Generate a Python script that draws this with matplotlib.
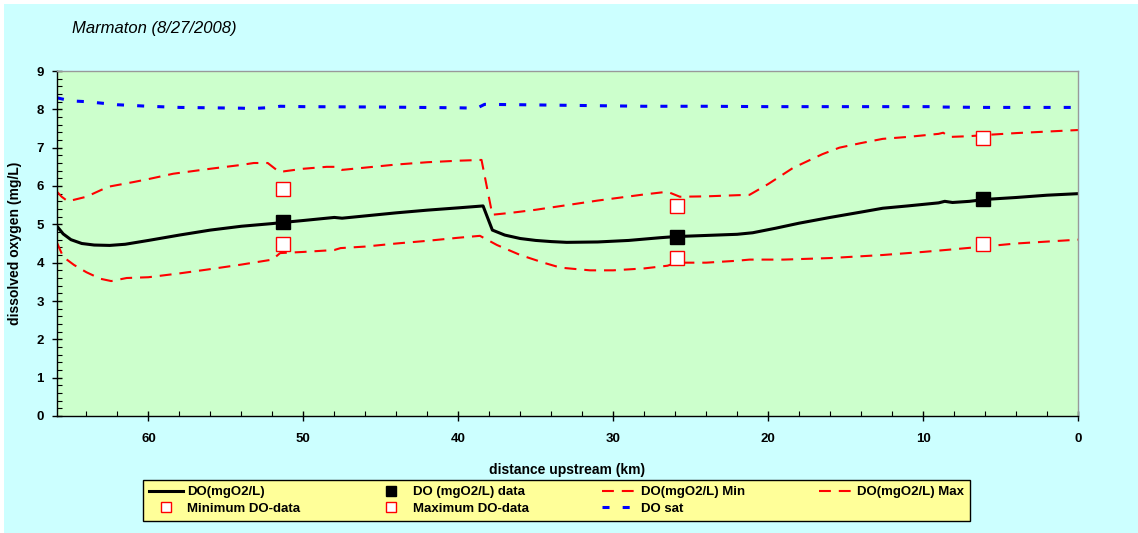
import matplotlib
matplotlib.use("Agg")
import matplotlib.pyplot as plt
from matplotlib.patches import Rectangle
from matplotlib.ticker import MultipleLocator

# model lines (distance upstream km, DO mg/L)
do_x = [65.9, 65.5, 65, 64.3, 63.5, 62.5, 61.5, 60, 58, 56, 54, 52, 51.3, 50, 48.5, 48, 47.5, 46, 44, 42, 40,
        38.4, 37.8, 37, 36, 35, 34, 33, 31, 29, 27, 26, 24, 22, 21, 19.5, 18, 16, 14, 12.6, 11, 9, 8.6, 8.1,
        7, 6, 4, 2, 0]
do_y = [4.95, 4.75, 4.6, 4.5, 4.46, 4.45, 4.48, 4.58, 4.72, 4.85, 4.95, 5.02, 5.05, 5.1, 5.16, 5.18, 5.16, 5.22,
        5.3, 5.37, 5.43, 5.48, 4.85, 4.72, 4.63, 4.58, 4.55, 4.53, 4.54, 4.58, 4.65, 4.68, 4.71, 4.74, 4.78, 4.9,
        5.03, 5.18, 5.32, 5.42, 5.48, 5.56, 5.6, 5.57, 5.6, 5.65, 5.7, 5.76, 5.8]

max_x = [65.9, 65.6, 65.2, 64, 62.6, 61, 60, 58.4, 56, 54, 53.2, 52.3, 51.6, 51.3, 50, 48.5, 47.8, 47.5, 46, 44,
         42, 40, 38.5, 37.8, 36.6, 35, 33, 31, 28, 26.5, 25.7, 24, 22, 21.2, 20, 18.4, 16.5, 15.4, 14, 12.6, 11,
         9, 8.7, 8.3, 7, 6, 4, 2, 0]
max_y = [5.85, 5.72, 5.6, 5.72, 5.98, 6.1, 6.18, 6.32, 6.45, 6.55, 6.6, 6.6, 6.38, 6.38, 6.45, 6.5, 6.5, 6.42,
         6.48, 6.56, 6.62, 6.66, 6.68, 5.25, 5.3, 5.38, 5.5, 5.62, 5.78, 5.85, 5.72, 5.73, 5.76, 5.77, 6.05, 6.47,
         6.83, 7.0, 7.12, 7.23, 7.28, 7.36, 7.39, 7.28, 7.3, 7.33, 7.38, 7.42, 7.46]

min_x = [65.9, 65.5, 64.8, 64, 63.1, 62.4, 61.4, 60, 58, 56.2, 54, 52, 51.5, 50, 48, 47.6, 46, 44, 42, 40, 38.6,
         37.5, 36, 34.5, 33.4, 31.5, 30, 28, 26.5, 25.9, 24, 22, 21.2, 19, 16, 12.6, 10, 8, 6.1, 4, 2, 0]
min_y = [4.52, 4.15, 3.94, 3.75, 3.58, 3.52, 3.6, 3.62, 3.72, 3.82, 3.95, 4.08, 4.25, 4.28, 4.33, 4.38, 4.42,
         4.5, 4.57, 4.65, 4.7, 4.46, 4.2, 4.0, 3.87, 3.8, 3.8, 3.85, 3.92, 4.0, 4.0, 4.05, 4.08, 4.08, 4.12, 4.2,
         4.28, 4.35, 4.42, 4.5, 4.55, 4.6]

sat_x = [65.9, 65, 64, 62, 60, 58, 56, 54, 53.3, 52, 51.5, 50, 45, 40, 38.8, 38.3, 36, 32, 28, 24, 20, 16, 12,
         9.3, 8.8, 6, 3, 0]
sat_y = [8.3, 8.22, 8.2, 8.12, 8.08, 8.05, 8.04, 8.03, 8.02, 8.05, 8.08, 8.07, 8.06, 8.04, 8.03, 8.13, 8.12, 8.1,
         8.08, 8.08, 8.07, 8.07, 8.07, 8.07, 8.06, 8.05, 8.05, 8.05]

# observed data
obs_x = [51.3, 25.9, 6.1]
obs_do = [5.05, 4.67, 5.65]
obs_min = [4.48, 4.12, 4.48]
obs_max = [5.92, 5.48, 7.25]

plt.rcParams['font.family'] = ['Liberation Sans', 'DejaVu Sans']

fig = plt.figure(figsize=(11.38, 5.33), dpi=100)
fig.patch.set_facecolor('white')
fig.add_artist(Rectangle((4 / 1138, 0), 1, 1 - 4 / 533, transform=fig.transFigure,
                         facecolor='#CCFFFF', edgecolor='none', zorder=-10))

ax = fig.add_axes([57 / 1138, 117 / 533, 1021 / 1138, 345 / 533])
ax.set_facecolor('#CCFFCC')

ax.plot(sat_x, sat_y, color='#0000FF', lw=2.2, ls=(0, (2.3, 4.3)), label='DO sat')
ax.plot(max_x, max_y, color='#FF0000', lw=1.5, ls=(0, (5.7, 3.8)), label='DO(mgO2/L) Max')
ax.plot(min_x, min_y, color='#FF0000', lw=1.5, ls=(0, (5.7, 3.8)), label='DO(mgO2/L) Min')
ax.plot(do_x, do_y, color='black', lw=2.2, label='DO(mgO2/L)')
ax.plot(obs_x, obs_do, ls='none', marker='s', ms=9.5, color='black', label='DO (mgO2/L) data')
ax.plot(obs_x, obs_min, ls='none', marker='s', ms=9.5, mfc='white', mec='#FF0000', mew=1.0,
        label='Minimum DO-data')
ax.plot(obs_x, obs_max, ls='none', marker='s', ms=9.5, mfc='white', mec='#FF0000', mew=1.0,
        label='Maximum DO-data')

ax.set_xlim(65.9, 0)
ax.set_ylim(0, 9)
ax.xaxis.set_major_locator(MultipleLocator(10))
ax.xaxis.set_minor_locator(MultipleLocator(2))
ax.yaxis.set_major_locator(MultipleLocator(1))
ax.yaxis.set_minor_locator(MultipleLocator(0.2))
ax.tick_params(which='major', direction='inout', length=7, width=1, labelsize=9.5, pad=6)
ax.tick_params(which='minor', direction='in', length=3.5, width=0.8)
ax.tick_params(axis='x', which='major', pad=9)
for lbl in ax.get_xticklabels() + ax.get_yticklabels():
    lbl.set_fontweight('bold')

for s in ['left', 'bottom']:
    ax.spines[s].set_color('black')
    ax.spines[s].set_linewidth(1)
for s in ['top', 'right']:
    ax.spines[s].set_color('#999999')
    ax.spines[s].set_linewidth(1)

ax.set_xlabel('distance upstream (km)', fontsize=10, fontweight='bold')
ax.xaxis.set_label_coords(0.5, -(463 - 416) / 345)
ax.set_ylabel('dissolved oxygen (mg/L)', fontsize=10, fontweight='bold')
ax.yaxis.set_label_coords(-(57 - 22) / 1021, 0.5)

fig.text(72 / 1138, 1 - 29 / 533, 'Marmaton (8/27/2008)', fontsize=12, style='italic',
         family=['Liberation Sans Narrow', 'Liberation Sans'], va='center', ha='left')

h, l = ax.get_legend_handles_labels()
d = dict(zip(l, h))
order = ['DO(mgO2/L)', 'Minimum DO-data', 'DO (mgO2/L) data', 'Maximum DO-data',
         'DO(mgO2/L) Min', 'DO sat', 'DO(mgO2/L) Max']
leg = fig.legend([d[k] for k in order], order, ncol=4, loc='upper left',
                 bbox_to_anchor=(143 / 1138, 1 - 523 / 533, (970 - 143) / 1138, 43 / 533),
                 bbox_transform=fig.transFigure, mode='expand', fancybox=False, framealpha=1,
                 facecolor='#FFFF99', edgecolor='black', prop={'weight': 'bold', 'size': 9.5},
                 handlelength=2.6, handletextpad=0.3, borderaxespad=0, borderpad=0.45,
                 labelspacing=0.35, markerscale=0.75)
leg.get_frame().set_linewidth(1)

fig.savefig('out.png', dpi=100)
